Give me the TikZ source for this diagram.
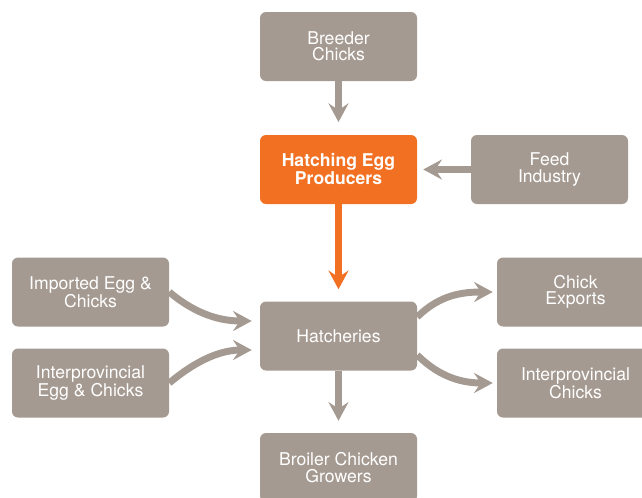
\documentclass[tikz,border=0pt]{standalone}
\usepackage{fontspec}
\setmainfont{TeX Gyre Heros}
\usetikzlibrary{arrows.meta,positioning}

\begin{document}
\begin{tikzpicture}[x=0.75pt, y=-0.75pt]
        \definecolor{boxgrey}{RGB}{165,154,145}
        \definecolor{eggorange}{RGB}{242,112,34}

        % boxes 157x69 px, arrows drawn as thick lines with stealth heads
        \tikzset{
            stage/.style={rectangle, rounded corners=4.5pt, fill=boxgrey, text=white, minimum width=117.75pt, minimum height=51.75pt, inner sep=0pt, font=\fontsize{13.2}{12.2}\selectfont, align=center},
            flow/.style={boxgrey, line width=5.2pt, -{Stealth[length=14pt, width=15pt, inset=5pt]}},
        }

        \useasboundingbox (0,0) rectangle (642,497);

        \node[stage] (breeder) at (338.5,46.5) {Breeder\\Chicks};
        \node[stage, fill=eggorange, font=\fontsize{13.2}{12.2}\selectfont\bfseries] (hep) at (338.5,169.5) {Hatching Egg\\Producers};
        \node[stage] (feed) at (549.5,169.5) {Feed\\Industry};
        \node[stage] (imported) at (90.5,292) {Imported Egg \&\\Chicks};
        \node[stage] (interegg) at (90.5,383) {Interprovincial\\Egg \& Chicks};
        \node[stage] (hatch) at (338.5,336) {Hatcheries};
        \node[stage] (exports) at (575.5,292) {Chick\\Exports};
        \node[stage] (interchicks) at (575.5,383) {Interprovincial\\Chicks};
        \node[stage] (growers) at (338.5,467.5) {Broiler Chicken\\Growers};

        \draw[flow, shorten >=9.5pt] (breeder) -- (hep);
        \draw[flow, shorten >=4.5pt] (feed) -- (hep);
        \draw[flow, eggorange, shorten >=9pt] (hep) -- (hatch);
        \draw[flow, shorten >=9pt] (hatch) -- (growers);

        \draw[flow, shorten >=6pt] (imported.east) to[out=-40, in=180] ([yshift=11.25pt]hatch.west);
        \draw[flow, shorten >=6pt] (interegg.east) to[out=40, in=180] ([yshift=-10.5pt]hatch.west);
        \draw[flow, shorten >=3pt] ([yshift=14.25pt]hatch.east) to[out=45, in=180] (exports.west);
        \draw[flow, shorten >=3pt] ([yshift=-14.25pt]hatch.east) to[out=-45, in=180] (interchicks.west);
    \end{tikzpicture}
\end{document}
